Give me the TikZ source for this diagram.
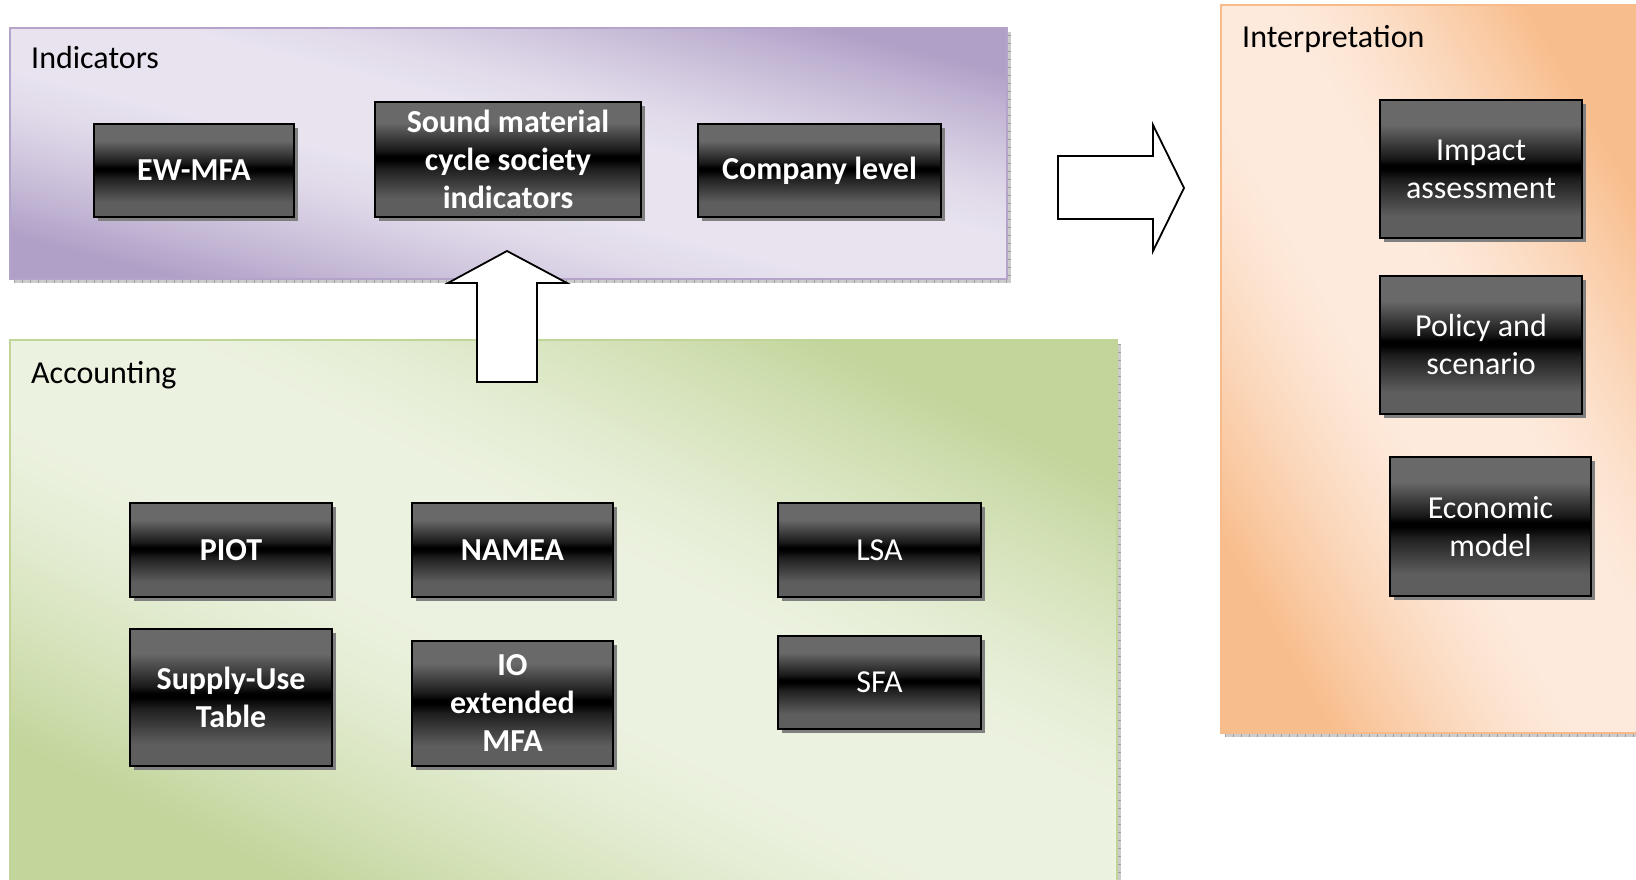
\documentclass[tikz,border=0pt]{standalone}
\usepackage{fontspec}
\setmainfont{Carlito}
\usetikzlibrary{shadows}

% panel washes
\definecolor{lilacDark}{HTML}{B0A0C7}
\definecolor{lilacLight}{HTML}{E8E3EF}
\definecolor{lilacEdge}{HTML}{B4A4CA}
\definecolor{sageDark}{HTML}{C2D59B}
\definecolor{sageLight}{HTML}{ECF2E0}
\definecolor{sageEdge}{HTML}{C0D597}
\definecolor{peachDark}{HTML}{F8BD8C}
\definecolor{peachLight}{HTML}{FDEADC}
\definecolor{peachEdge}{HTML}{F8BA88}
% glossy tiles
\definecolor{glossTop}{gray}{0.41}
\definecolor{glossBottom}{gray}{0.37}

\pgfdeclareverticalshading{glossband}{100bp}{%
  color(0bp)=(glossBottom); color(25bp)=(glossBottom); color(33bp)=(glossBottom);
  color(46bp)=(black!88); color(48.5bp)=(black!96); color(50bp)=(black); color(51.5bp)=(black);
  color(54bp)=(black!90); color(66bp)=(glossTop); color(75bp)=(glossTop); color(100bp)=(glossTop)}

% light plateau along one diagonal, darkening towards the two other corners
\newcommand\panelwash[3]{%
  \pgfdeclareverticalshading{#1}{100bp}{%
    color(0bp)=(#2); color(25bp)=(#2);
    color(30bp)=(#2!68!#3); color(35bp)=(#2!40!#3); color(40bp)=(#2!15!#3);
    color(45bp)=(#3); color(55bp)=(#3);
    color(60bp)=(#2!15!#3); color(65bp)=(#2!40!#3); color(70bp)=(#2!68!#3);
    color(75bp)=(#2); color(100bp)=(#2)}}
\panelwash{lilacwash}{lilacDark}{lilacLight}
\panelwash{sagewash}{sageDark}{sageLight}
\panelwash{peachwash}{peachDark}{peachLight}

\begin{document}
\begin{tikzpicture}[x=1pt,y=-1pt,
  tile/.style={draw=black, line width=2pt, shading=glossband, text=white,
    font=\fontsize{32}{38}\selectfont, align=center, inner sep=0pt,
    drop shadow={shadow xshift=4pt, shadow yshift=-4pt, fill=gray, opacity=1}},
  boldtile/.style={tile, font=\fontsize{32}{38}\selectfont\bfseries},
  paneltitle/.style={anchor=base west, inner sep=0pt, text=black,
    font=\fontsize{32}{38}\selectfont},
  blockarrow/.style={draw=black, line width=1.8pt, fill=white, line join=miter},
  rim/.style={line width=4pt, draw=gray!40},
  rimticks/.style={line width=4pt, draw=gray!75, dash pattern=on 1pt off 7pt},
]
\useasboundingbox (0,0) rectangle (1636,880);
\fill[white] (0,0) rectangle (1636,880);

% ---- Indicators panel (shading angle puts the light band on the TL-BR diagonal)
\shade[shading=lilacwash, shading angle=-14.13] (10,28) rectangle (1007,279);
\draw[rim] (14,281) -- (1009,281) -- (1009,32);
\draw[rimticks] (14,281) -- (1009,281) -- (1009,32);
\draw[lilacEdge, line width=2.5pt] (10,279) -- (10,28) -- (1007,28) -- (1007,279) -- cycle;
\node[paneltitle] (indTitle) at (31,69) {Indicators};

% ---- Accounting panel
\shade[shading=sagewash, shading angle=-26.09] (10,340) rectangle (1117,882);
\draw[rim] (1119,344) -- (1119,882);
\draw[rimticks] (1119,344) -- (1119,882);
\draw[sageEdge, line width=2.5pt] (10,882) -- (10,340) -- (1117,340) -- (1117,882);
\node[paneltitle] (accTitle) at (31,383) {Accounting};

% ---- Interpretation panel
\shade[shading=peachwash, shading angle=-60.2] (1221,5) rectangle (1638,733);
\draw[rim] (1225,735) -- (1638,735);
\draw[rimticks] (1225,735) -- (1638,735);
\draw[peachEdge, line width=2.5pt] (1638,733) -- (1221,733) -- (1221,5) -- (1638,5);
\node[paneltitle] (intTitle) at (1242,48) {Interpretation};

% ---- indicator tiles
\node[boldtile, minimum width=200pt, minimum height=93pt] (ewmfa) at (194,170.5) {EW-MFA};
\node[boldtile, minimum width=266pt, minimum height=115pt] (smcs) at (508,159.5)
  {Sound material\\cycle society\\indicators};
\node[boldtile, minimum width=243pt, minimum height=93pt] (company) at (819.5,170.5) {Company level};

% ---- accounting tiles
\node[boldtile, minimum width=202pt, minimum height=94pt] (piot) at (231,550) {PIOT};
\node[boldtile, minimum width=201pt, minimum height=94pt] (namea) at (512.5,550) {NAMEA};
\node[tile, minimum width=203pt, minimum height=94pt] (lsa) at (879.5,550) {LSA};
\node[boldtile, minimum width=202pt, minimum height=137pt] (sut) at (231,697.5) {Supply-Use\\Table};
\node[boldtile, minimum width=201pt, minimum height=125pt] (io) at (512.5,703.5) {IO\\extended\\MFA};
\node[tile, minimum width=203pt, minimum height=93pt] (sfa) at (879.5,682.5) {SFA};

% ---- interpretation tiles
\node[tile, minimum width=202pt, minimum height=138pt] (impact) at (1481,169) {Impact\\assessment};
\node[tile, minimum width=202pt, minimum height=138pt] (policy) at (1481,345) {Policy and\\scenario};
\node[tile, minimum width=201pt, minimum height=139pt] (econ) at (1490.5,526.5) {Economic\\model};

% ---- block arrows
\draw[blockarrow] (477,382) -- (477,283) -- (448,283) -- (507,251) -- (567,283)
  -- (537,283) -- (537,382) -- cycle;
\draw[blockarrow] (1058,156) -- (1153,156) -- (1153,125) -- (1184,188) -- (1153,251)
  -- (1153,219) -- (1058,219) -- cycle;
\end{tikzpicture}
\end{document}
